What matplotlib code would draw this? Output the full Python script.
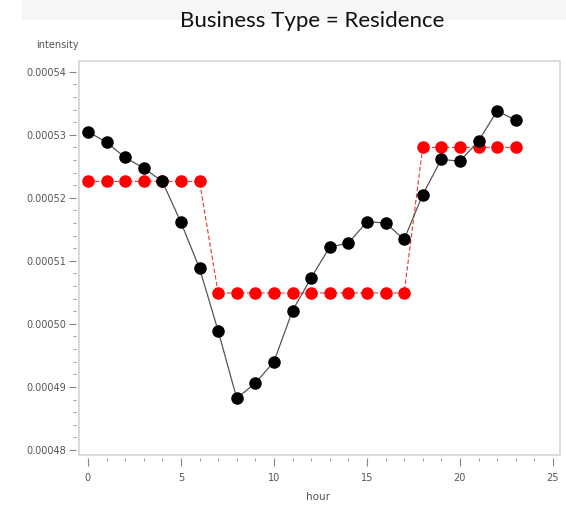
import matplotlib
matplotlib.use("Agg")
import matplotlib.pyplot as plt
from matplotlib.patches import Rectangle
from matplotlib.ticker import MultipleLocator, FixedLocator

hours = list(range(24))
observed = [0.0005305, 0.0005288, 0.0005264, 0.0005247, 0.0005226, 0.0005161,
            0.0005088, 0.0004989, 0.0004882, 0.0004906, 0.0004940, 0.0005021,
            0.0005073, 0.0005122, 0.0005128, 0.0005162, 0.0005160, 0.0005134,
            0.0005205, 0.0005261, 0.0005258, 0.0005290, 0.0005338, 0.0005323]
fitted = [0.0005226] * 7 + [0.0005049] * 11 + [0.0005280] * 6

y_ticks = [0.00048, 0.00049, 0.00050, 0.00051, 0.00052, 0.00053, 0.00054]
y_tick_labels = ["0.00048", "0.00049", "0.00050", "0.00051", "0.00052", "0.00053", "0.00054"]
x_ticks = [0, 5, 10, 15, 20, 25]

W, H = 566, 507
fig = plt.figure(figsize=(W / 100, H / 100), dpi=100)

# faint band behind the title
fig.patches.append(Rectangle((22 / W, 1 - 20 / H), 1, 20 / H, transform=fig.transFigure,
                             facecolor="#f5f6f8", edgecolor="none", zorder=0))

ax = fig.add_axes([79 / W, 1 - 455 / H, 481 / W, 394 / H])

ax.plot(hours, fitted, color="#e03a3a", lw=0.8, ls=(0, (4, 2)), zorder=2,
        marker="o", ms=8, mfc="#ff0000", mec="#ff0000")
ax.plot(hours, observed, color="#555555", lw=0.9, zorder=3,
        marker="o", ms=8, mfc="#000000", mec="#000000")

ax.set_xlim(-0.48, 25.38)
ax.set_ylim(0.0004792, 0.0005417)

# plot frame drawn as a light box; axis lines detached from it
for s in ax.spines.values():
    s.set_visible(False)
ax.add_patch(Rectangle((0, 0), 1, 1, transform=ax.transAxes, fill=False,
                       edgecolor="#d4d4d4", lw=1.2, clip_on=False, zorder=5))
ax.spines["left"].set_position(("outward", 2))
ax.spines["bottom"].set_position(("outward", 2))

ax.yaxis.set_major_locator(FixedLocator(y_ticks))
ax.set_yticklabels(y_tick_labels)
ax.yaxis.set_minor_locator(MultipleLocator(0.000002))
ax.xaxis.set_major_locator(FixedLocator(x_ticks))
ax.set_xticklabels([str(v) for v in x_ticks])
ax.xaxis.set_minor_locator(MultipleLocator(1))

ax.tick_params(axis="y", which="major", length=5, width=0.8, color="#888888",
               labelsize=7, labelcolor="#555555", pad=2)
ax.tick_params(axis="y", which="minor", length=2.5, width=0.7, color="#999999")
ax.tick_params(axis="x", which="major", length=6, width=0.8, color="#888888",
               labelsize=7, labelcolor="#555555", pad=5)
ax.tick_params(axis="x", which="minor", length=2.5, width=0.7, color="#999999")

fig.text(57 / W, 1 - 45 / H, "intensity", ha="center", va="center",
         fontsize=7, color="#555555")
fig.text(318 / W, 1 - 497 / H, "hour", ha="center", va="center",
         fontsize=7.5, color="#555555")
fig.text(312 / W, 1 - 21 / H, "Business Type = Residence", ha="center", va="center",
         fontsize=16, family="Lato", color="#111111")

fig.savefig("out.png", dpi=100)
